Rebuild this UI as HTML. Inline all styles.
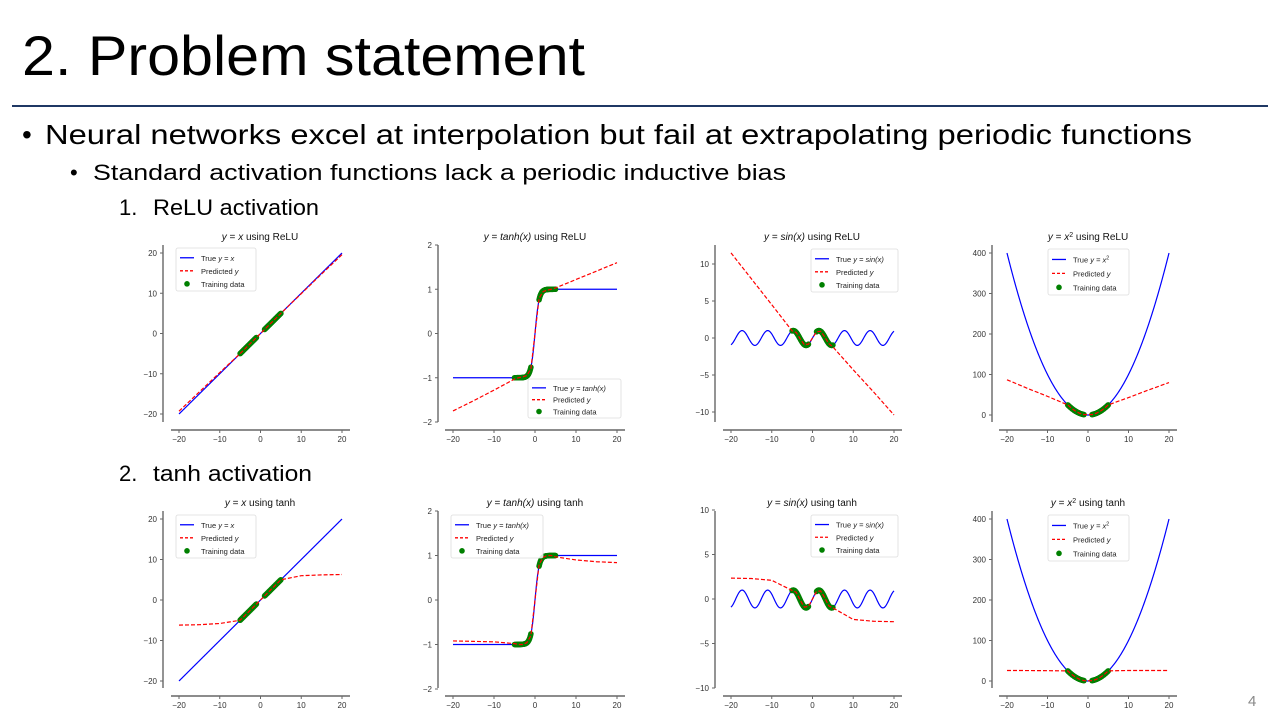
<!DOCTYPE html>
<html><head><meta charset="utf-8"><style>
html,body{margin:0;padding:0;background:#fff;}
svg{display:block;font-family:"Liberation Sans",sans-serif;}
</style></head><body>
<svg id="slide" width="1280" height="720" viewBox="0 0 1280 720" xmlns="http://www.w3.org/2000/svg">
<rect width="1280" height="720" fill="#fff"/>
<text x="22" y="75" font-size="56" textLength="563" lengthAdjust="spacingAndGlyphs" fill="#000">2. Problem statement</text>
<rect x="12" y="105" width="1256" height="2" fill="#1f3864"/>
<text x="22" y="144" font-size="28" fill="#000">•</text>
<text x="45" y="144" font-size="28" textLength="1147" lengthAdjust="spacingAndGlyphs">Neural networks excel at interpolation but fail at extrapolating periodic functions</text>
<text x="70" y="180" font-size="22">•</text>
<text x="93" y="180" font-size="22" textLength="693" lengthAdjust="spacingAndGlyphs">Standard activation functions lack a periodic inductive bias</text>
<text x="119" y="215" font-size="22">1.</text>
<text x="153" y="215" font-size="22" textLength="166" lengthAdjust="spacingAndGlyphs">ReLU activation</text>
<text x="119" y="481" font-size="22">2.</text>
<text x="153" y="481" font-size="22" textLength="159" lengthAdjust="spacingAndGlyphs">tanh activation</text>
<text x="1248" y="706" font-size="15" fill="#888">4</text>
<g id="plots"></g>
</svg>
<script>
const predX = [-20,-15,-10,-5,-4,-3,-2,-1,0,1,2,3,4,5,10,15,20];
const predReluLinear = [-19.3,-14.5,-9.7,-5,-4,-3,-2,-1,0,1,2,3,4,5,9.9,14.8,19.6];
const predReluTanh = [-1.75,-1.52,-1.28,-1.03,-1.0,-0.98,-0.95,-0.8,0,0.8,0.95,0.98,1.0,1.03,1.22,1.41,1.6];
const predReluSin = [11.5,8,4.5,0.96,0.76,-0.14,-0.91,-0.84,0,0.84,0.91,0.14,-0.76,-1.2,-4.3,-7.3,-10.4];
const predReluSq = [87,66,46,25,16,9,4,1,1.5,1,4,9,16,25,43,62,80];
const predTanhLinear = [-6.2,-6.1,-5.8,-5,-4,-3,-2,-1,0,1,2,3,4,5,6,6.2,6.3];
const predTanhTanh = [-0.92,-0.93,-0.94,-0.98,-1.0,-1.0,-0.96,-0.8,0,0.8,0.96,1.0,1.0,0.97,0.9,0.86,0.84];
const predTanhSin = [2.35,2.3,2.1,0.96,0.76,-0.14,-0.91,-0.84,0,0.84,0.91,0.14,-0.76,-1.0,-2.3,-2.5,-2.55];
const predTanhSq = [26,25.8,25.5,25,16,9,4,1,0.5,1,4,9,16,25,26,26,26];
const xTicks = [-20,-10,0,10,20];
const yTicksLinear = [-20,-10,0,10,20];
const yTicksTanh = [-2,-1,0,1,2];
const yTicksSin = [-10,-5,0,5,10];
const yTicksSq = [0,100,200,300,400];

const trueFns = {
  linear: x => x, tanh: x => Math.tanh(x), sin: x => Math.sin(x), sq: x => x*x
};
const trueLabel = {linear:['x'], tanh:['tanh(x)'], sin:['sin(x)'], sq:['x','2']};

const plots = [
  {name:'relu-linear',fn:'linear',act:'ReLU',pred:predReluLinear,yt:yTicksLinear,x0:179,x1:342,ya:20,pa:253,yb:-20,pb:414,sl:163,row:0,cx:260,lg:[176,248,80,43]},
  {name:'relu-tanh',fn:'tanh',act:'ReLU',pred:predReluTanh,yt:yTicksTanh,x0:453,x1:617,ya:2,pa:245,yb:-2,pb:422,sl:438,row:0,cx:535,lg:[528,379,93,39]},
  {name:'relu-sin',fn:'sin',act:'ReLU',pred:predReluSin,yt:yTicksSin,x0:731,x1:894,ya:10,pa:264,yb:-10,pb:412,sl:715,row:0,cx:812,lg:[811,249,87,43]},
  {name:'relu-square',fn:'sq',act:'ReLU',pred:predReluSq,yt:yTicksSq,x0:1007,x1:1169,ya:400,pa:253,yb:0,pb:415,sl:992,row:0,cx:1088,lg:[1048,249,81,46]},
  {name:'tanh-linear',fn:'linear',act:'tanh',pred:predTanhLinear,yt:yTicksLinear,x0:179,x1:342,ya:20,pa:519,yb:-20,pb:681,sl:163,row:1,cx:260,lg:[176,515,80,43]},
  {name:'tanh-tanh',fn:'tanh',act:'tanh',pred:predTanhTanh,yt:yTicksTanh,x0:453,x1:617,ya:2,pa:511,yb:-2,pb:689,sl:438,row:1,cx:535,lg:[451,515,92,43]},
  {name:'tanh-sin',fn:'sin',act:'tanh',pred:predTanhSin,yt:yTicksSin,x0:731,x1:894,ya:10,pa:510,yb:-10,pb:688,sl:715,row:1,cx:812,lg:[811,515,87,42]},
  {name:'tanh-square',fn:'sq',act:'tanh',pred:predTanhSq,yt:yTicksSq,x0:1007,x1:1169,ya:400,pa:519,yb:0,pb:681,sl:992,row:1,cx:1088,lg:[1048,515,81,46]}
];

const NS='http://www.w3.org/2000/svg';
const root=document.getElementById('plots');
function mk(tag,attrs,parent,text){const e=document.createElementNS(NS,tag);for(const k in attrs)e.setAttribute(k,attrs[k]);if(text!==undefined)e.textContent=text;(parent||root).appendChild(e);return e;}
function labelTspans(t,fnKey,prefix,suffix){
  if(prefix) mk('tspan',{},t,prefix);
  mk('tspan',{'font-style':'italic'},t,'y');
  mk('tspan',{},t,' = ');
  const lab=trueLabel[fnKey];
  mk('tspan',{'font-style':'italic'},t,lab[0]);
  if(lab[1]) mk('tspan',{'baseline-shift':'super','font-size':'70%'},t,lab[1]);
  if(suffix) mk('tspan',{},t,suffix);
}

plots.forEach(p=>{
  const g=mk('g',{});
  
  
  const X=v=>p.x0+(v+20)/40*(p.x1-p.x0);
  const Y=v=>p.pa+(v-p.ya)/(p.yb-p.ya)*(p.pb-p.pa);
  const top=p.row?511:245, bot=p.row?688:422, bAxis=p.row?696:430;
  // title
  const t=mk('text',{x:p.cx,y:p.row?506:240,'font-size':10,'text-anchor':'middle',fill:'#111'},g);
  
  
  labelTspans(t,p.fn,'',' using '+p.act);
  // axes
  const la=mk('line',{x1:p.sl,y1:top,x2:p.sl,y2:bot,stroke:'#666','stroke-width':1.4},g);
  
  
  const ba=mk('line',{x1:X(-20)-8,y1:bAxis,x2:X(20)+8,y2:bAxis,stroke:'#666','stroke-width':1.4},g);
  
  
  p.yt.forEach(v=>{
    mk('line',{x1:p.sl-3,y1:Y(v),x2:p.sl,y2:Y(v),stroke:'#666'},g);
    const tl=mk('text',{x:p.sl-6,y:Y(v)+3,'font-size':8,'text-anchor':'end',fill:'#333'},g,String(v).replace('-','\u2212'));
    
    
  });
  xTicks.forEach(v=>{
    mk('line',{x1:X(v),y1:bAxis,x2:X(v),y2:bAxis+3,stroke:'#666'},g);
    const tl=mk('text',{x:X(v),y:bAxis+12,'font-size':8,'text-anchor':'middle',fill:'#333'},g,String(v).replace('-','\u2212'));
    
    
  });
  // true curve
  let d='';
  for(let i=0;i<=400;i++){const x=-20+i*0.1;d+=(i?'L':'M')+X(x).toFixed(2)+' '+Y(trueFns[p.fn](x)).toFixed(2);}
  const tc=mk('path',{d,fill:'none',stroke:'#0000ff','stroke-width':1.2},g);
  
  
  // training dots
  const dg=mk('g',{fill:'#008000'},g);
  
  
  for(let i=0;i<=40;i++){
    [-5+i*0.1,1+i*0.1].forEach(x=>{mk('circle',{cx:X(x),cy:Y(trueFns[p.fn](x)),r:2.8},dg);});
  }
  // predicted
  const pd=predX.map((x,i)=>(i?'L':'M')+X(x).toFixed(2)+' '+Y(p.pred[i]).toFixed(2)).join('');
  const pc=mk('path',{d:pd,fill:'none',stroke:'#ff0000','stroke-width':1.2,'stroke-dasharray':'4 2'},g);
  
  
  // legend
  const [lx,ly,lw,lh]=p.lg;
  const lgG=mk('g',{},g);
  
  
  mk('rect',{x:lx,y:ly,width:lw,height:lh,fill:'#fff','fill-opacity':0.85,stroke:'#ddd','stroke-width':0.8,rx:2},lgG);
  const s=lh/3.3;
  const r1=ly+s*0.75, r2=ly+s*1.75, r3=ly+s*2.75;
  mk('line',{x1:lx+4,y1:r1,x2:lx+18,y2:r1,stroke:'#0000ff','stroke-width':1.3},lgG);
  mk('line',{x1:lx+4,y1:r2,x2:lx+18,y2:r2,stroke:'#ff0000','stroke-width':1.3,'stroke-dasharray':'3 2'},lgG);
  mk('circle',{cx:lx+11,cy:r3,r:2.8,fill:'#008000'},lgG);
  const e1=mk('text',{x:lx+25,y:r1+3,'font-size':7.5,fill:'#222'},lgG);
  
  
  labelTspans(e1,p.fn,'True ','');
  const e2=mk('text',{x:lx+25,y:r2+3,'font-size':7.5,fill:'#222'},lgG);
  
  
  mk('tspan',{},e2,'Predicted ');mk('tspan',{'font-style':'italic'},e2,'y');
  const e3=mk('text',{x:lx+25,y:r3+3,'font-size':7.5,fill:'#222'},lgG,'Training data');
  
  
});
</script>
</body></html>
